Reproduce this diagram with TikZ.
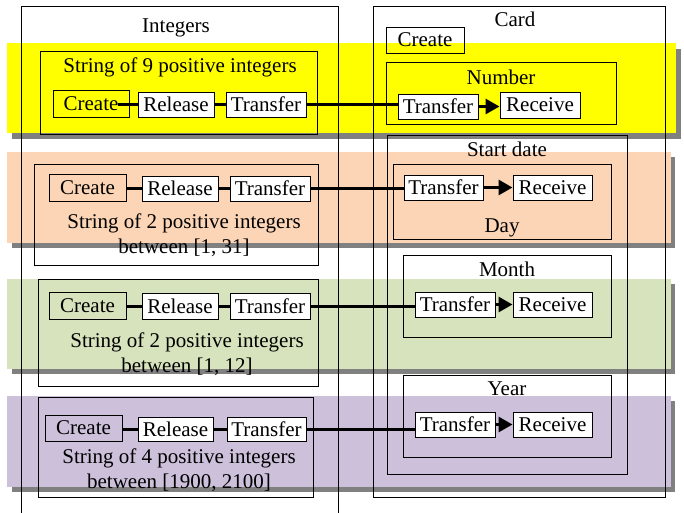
\documentclass[tikz,border=0pt]{standalone}
\usepackage{fontspec}
\setmainfont{Liberation Serif}
\usetikzlibrary{arrows.meta}

\definecolor{bandyellow}{RGB}{255,255,0}
\definecolor{bandpeach}{RGB}{251,213,181}
\definecolor{bandgreen}{RGB}{215,227,188}
\definecolor{bandpurple}{RGB}{204,192,218}
\definecolor{bandshadow}{RGB}{128,128,128}

\tikzset{
    box/.style={draw, line width=1pt},
    op/.style={draw, line width=1pt, fill=white, inner sep=0pt, minimum height=25pt},
    link/.style={line width=3pt},
    flow/.style={line width=3pt, -{Triangle[length=14pt,width=15pt]}},
    lbl/.style={inner sep=0pt}
}

\begin{document}
\begin{tikzpicture}[x=1pt, y=-1pt, font=\fontsize{21}{25}\selectfont]
            \useasboundingbox (0,0) rectangle (684,512);

            % Draw the coloured bands with their shadows
            \fill[bandshadow] (12,49) rectangle (681,139);
            \fill[bandyellow] (7,43) rectangle (676,133);
            \fill[bandshadow] (12,157) rectangle (675,248);
            \fill[bandpeach] (7,152) rectangle (671,243);
            \fill[bandshadow] (12,284) rectangle (675,374);
            \fill[bandgreen] (7,279) rectangle (671,369);
            \fill[bandshadow] (12,401) rectangle (675,492);
            \fill[bandpurple] (7,396) rectangle (671,487);

            % Draw the Integers side
            \draw[box] (21,515) |- (338,6) -- (338,515);
            \node[lbl] (intlbl) at (176,28) {Integers};

            \draw[box] (40,51) rectangle (317,134);
            \node[lbl] (s1) at (180,67) {String of 9 positive integers};

            \draw[box] (34,164) rectangle (318,265);
            \node[lbl, align=center] (s2) at (184,235) {String of 2 positive integers\\between [1, 31]};

            \draw[box] (38,279) rectangle (318,386);
            \node[lbl, align=center] (s3) at (187,354) {String of 2 positive integers\\between [1, 12]};

            \draw[box] (38,397) rectangle (313,497);
            \node[lbl, align=center] (s4) at (179,470) {String of 4 positive integers\\between [1900, 2100]};

            % Draw the Card side
            \draw[box] (373,6) rectangle (665,497);
            \node[lbl] (cardlbl) at (515,19) {Card};
            \node[op, fill=none, minimum width=78pt, minimum height=26pt] (cc) at (425,40) {Create};

            \draw[box] (386,62) rectangle (616,124);
            \node[lbl] (numlbl) at (501,77) {Number};

            \draw[box] (387,135) rectangle (627,474);
            \node[lbl] (startlbl) at (507,149) {Start date};

            \draw[box] (393,164) rectangle (611,239);
            \node[lbl] (daylbl) at (502,228) {Day};

            \draw[box] (403,255) rectangle (611,337);
            \node[lbl] (monthlbl) at (507,269) {Month};

            \draw[box] (403,375) rectangle (611,457);
            \node[lbl] (yearlbl) at (507,389) {Year};

            % Number row
            \node[op, fill=none, minimum width=76pt, minimum height=27pt] (c1) at (91,103.5) {Create};
            \node[op, minimum width=76pt] (r1) at (176,104.5) {Release};
            \node[op, minimum width=80pt] (t1) at (266,104.5) {Transfer};
            \node[op, minimum width=80pt] (ct1) at (438,106.5) {Transfer};
            \node[op, minimum width=80pt, minimum height=26pt] (cr1) at (540,105) {Receive};

            % Day row
            \node[op, fill=none, minimum width=77pt, minimum height=27pt] (c2) at (87.5,187.5) {Create};
            \node[op, minimum width=76pt] (r2) at (180,188.5) {Release};
            \node[op, minimum width=80pt] (t2) at (270,188.5) {Transfer};
            \node[op, minimum width=79pt] (ct2) at (443.5,187.5) {Transfer};
            \node[op, minimum width=79pt] (cr2) at (552.5,187.5) {Receive};

            % Month row
            \node[op, fill=none, minimum width=77pt, minimum height=27pt] (c3) at (87.5,305.5) {Create};
            \node[op, minimum width=76pt, minimum height=26pt] (r3) at (180,306) {Release};
            \node[op, minimum width=80pt, minimum height=26pt] (t3) at (270,306) {Transfer};
            \node[op, minimum width=80pt] (ct3) at (455,304.5) {Transfer};
            \node[op, minimum width=79pt] (cr3) at (552.5,304.5) {Receive};

            % Year row
            \node[op, fill=none, minimum width=77pt, minimum height=26pt] (c4) at (83.5,428) {Create};
            \node[op, minimum width=75pt, minimum height=24pt] (r4) at (175.5,429) {Release};
            \node[op, minimum width=79pt, minimum height=24pt] (t4) at (266.5,429) {Transfer};
            \node[op, minimum width=80pt] (ct4) at (455,424.5) {Transfer};
            \node[op, minimum width=79pt] (cr4) at (552.5,424.5) {Receive};

            % Draw the connectors
            \draw[link] ([xshift=-12pt]c1.east |- r1.west) -- (r1.west);
            \draw[link] (r1.east) -- (t1.west);
            \draw[link] (t1.east) -- (t1.east -| ct1.west);
            \draw[flow] (ct1.east) -- (ct1.east -| cr1.west);

            \draw[link] (c2.east |- r2.west) -- (r2.west);
            \draw[link] (r2.east) -- (t2.west);
            \draw[link] (t2.east) -- (t2.east -| ct2.west);
            \draw[flow] (ct2.east) -- (cr2.west);

            \draw[link] (c3.east |- r3.west) -- (r3.west);
            \draw[link] (r3.east) -- (t3.west);
            \draw[link] (t3.east) -- (t3.east -| ct3.west);
            \draw[flow] (ct3.east) -- (cr3.west);

            \draw[link] (c4.east |- r4.west) -- (r4.west);
            \draw[link] (r4.east) -- (t4.west);
            \draw[link] (t4.east) -- (t4.east -| ct4.west);
            \draw[flow] (ct4.east) -- (cr4.west);

        \end{tikzpicture}
\end{document}
